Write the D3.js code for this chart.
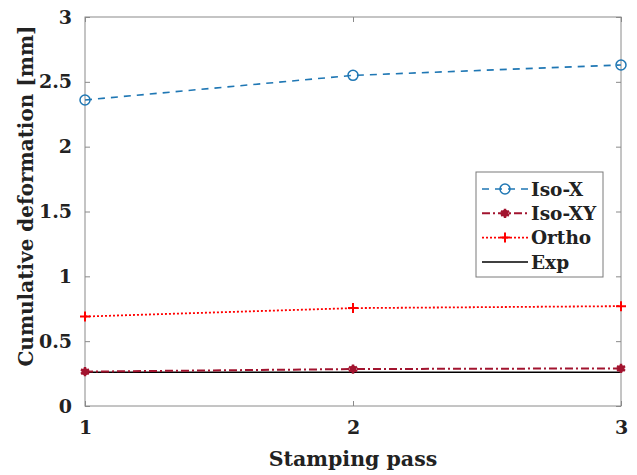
<!DOCTYPE html>
<html>
<head>
<meta charset="utf-8">
<script src="https://cdn.jsdelivr.net/npm/d3@7"></script>
<style>
  html, body { margin: 0; padding: 0; background: #fff; }
  svg text { font-family: "DejaVu Serif", serif; font-weight: bold; fill: #222; }
</style>
</head>
<body>
<svg id="chart" width="637" height="475"></svg>
<script>
// Stamping passes and cumulative deformation per model (mm)
const passes = [1, 2, 3];
const isoX  = [2.36, 2.55, 2.63];
const isoXY = [0.265, 0.285, 0.29];
const ortho = [0.69, 0.755, 0.77];
const expt  = [0.26, 0.26, 0.26];
const yTicks = [0, 0.5, 1, 1.5, 2, 2.5, 3];
const seriesNames = ["Iso-X", "Iso-XY", "Ortho", "Exp"];

const svg = d3.select("#chart");
const m = { left: 85, right: 16, top: 17, bottom: 69 };
const W = 637, H = 475;

const x = d3.scaleLinear().domain([1, 3]).range([m.left, W - m.right]);
const y = d3.scaleLinear().domain([0, 3]).range([H - m.bottom, m.top]);

const axisColor = "#8a8a8a";

// frame
svg.append("rect")
  .attr("x", x(1)).attr("y", y(3))
  .attr("width", x(3) - x(1)).attr("height", y(0) - y(3))
  .attr("fill", "none").attr("stroke", axisColor).attr("stroke-width", 1);

// axes with inward ticks
const styleAxis = g => {
  g.select(".domain").remove();
  g.selectAll(".tick line").attr("stroke", axisColor);
  g.selectAll(".tick text").style("font-size", "19px").attr("fill", "#222");
};
svg.append("g").attr("transform", `translate(0,${y(0)})`)
  .call(d3.axisBottom(x).tickValues(passes).tickFormat(d3.format("d")).tickSizeInner(-5).tickPadding(15))
  .call(styleAxis);
svg.append("g").attr("transform", `translate(0,${y(3)})`)
  .call(d3.axisTop(x).tickValues(passes).tickFormat("").tickSizeInner(-5))
  .call(styleAxis);
svg.append("g").attr("transform", `translate(${x(1)},0)`)
  .call(d3.axisLeft(y).tickValues(yTicks).tickFormat(d3.format("")).tickSizeInner(-5).tickPadding(13))
  .call(styleAxis);
svg.append("g").attr("transform", `translate(${x(3)},0)`)
  .call(d3.axisRight(y).tickValues(yTicks).tickFormat("").tickSizeInner(-5))
  .call(styleAxis);

// axis titles
svg.append("text").attr("x", (x(1) + x(3)) / 2).attr("y", 466)
  .attr("text-anchor", "middle").style("font-size", "20.5px").text("Stamping pass");
svg.append("text").attr("transform", `translate(33,196) rotate(-90)`)
  .attr("text-anchor", "middle").style("font-size", "20px").text("Cumulative deformation [mm]");

const series = [
  { name: seriesNames[0], vals: isoX,  color: "#1f77b4", dash: "7,6",  width: 1.6, marker: "circle" },
  { name: seriesNames[1], vals: isoXY, color: "#a2142f", dash: "8,3,2,3", width: 2, marker: "star" },
  { name: seriesNames[2], vals: ortho, color: "#ff0000", dash: "2,2",  width: 1.8, marker: "plus" },
  { name: seriesNames[3], vals: expt,  color: "#000000", dash: null,   width: 1.5, marker: null }
];

const line = d3.line().x((d, i) => x(passes[i])).y(d => y(d));

function drawMarker(g, type, cx, cy, color) {
  if (type === "circle") {
    g.append("circle").attr("cx", cx).attr("cy", cy).attr("r", 5)
      .attr("fill", "none").attr("stroke", color).attr("stroke-width", 1.5);
  } else if (type === "star") {
    g.append("path").attr("transform", `translate(${cx},${cy})`)
      .attr("d", d3.symbol(d3.symbolAsterisk, 60)())
      .attr("stroke", color).attr("stroke-width", 2.5).attr("fill", color);
    g.append("circle").attr("cx", cx).attr("cy", cy).attr("r", 3.5).attr("fill", color);
  } else if (type === "plus") {
    g.append("path").attr("transform", `translate(${cx},${cy})`)
      .attr("d", "M-5,0H5M0,-5V5").attr("stroke", color).attr("stroke-width", 2);
  }
}

// draw in reverse so Iso-X sits on top
[...series].reverse().forEach(s => {
  const g = svg.append("g");
  g.append("path").datum(s.vals).attr("d", line)
    .attr("fill", "none").attr("stroke", s.color).attr("stroke-width", s.width)
    .attr("stroke-dasharray", s.dash);
  if (s.marker) s.vals.forEach((v, i) => drawMarker(g, s.marker, x(passes[i]), y(v), s.color));
});

// legend
const lg = svg.append("g");
lg.append("rect").attr("x", 476).attr("y", 172).attr("width", 127).attr("height", 105)
  .attr("fill", "#fff").attr("stroke", "#7a7a7a").attr("stroke-width", 1);
series.forEach((s, i) => {
  const ly = 189 + i * 24.3;
  lg.append("line").attr("x1", 482).attr("x2", 528).attr("y1", ly).attr("y2", ly)
    .attr("stroke", s.color).attr("stroke-width", s.width).attr("stroke-dasharray", s.dash);
  if (s.marker) drawMarker(lg, s.marker, 505, ly, s.color);
  lg.append("text").attr("x", 531).attr("y", ly).attr("dy", "0.36em")
    .style("font-size", "18.5px").text(s.name);
});
</script>
</body>
</html>
